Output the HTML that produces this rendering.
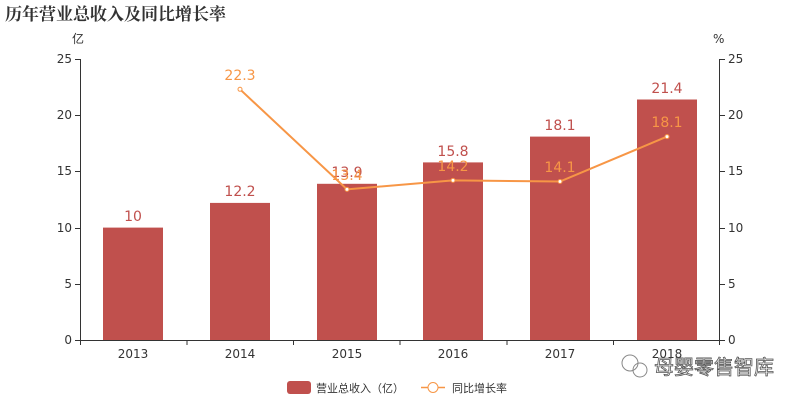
<!DOCTYPE html><html><head><meta charset="utf-8"><style>body{margin:0;background:#fff}</style></head><body>
<svg width="800" height="400" xmlns="http://www.w3.org/2000/svg" font-family="DejaVu Sans, Noto Sans CJK SC, sans-serif">
<text x="5" y="20" font-size="17" font-weight="bold" fill="#333" font-family="Noto Serif CJK SC, serif">历年营业总收入及同比增长率</text>
<text x="72" y="43" font-size="12" fill="#333">亿</text>
<text x="713" y="43" font-size="12" fill="#333">%</text>
<g stroke="#333" stroke-width="1">
<line x1="80.5" y1="59" x2="80.5" y2="340"/><line x1="719.5" y1="59" x2="719.5" y2="340"/>
<line x1="80" y1="340.5" x2="720" y2="340.5"/>
</g>
<g stroke="#333">
<line x1="75" x2="80" y1="340.5" y2="340.5"/><line x1="75" x2="80" y1="284.5" y2="284.5"/><line x1="75" x2="80" y1="228.5" y2="228.5"/><line x1="75" x2="80" y1="171.5" y2="171.5"/><line x1="75" x2="80" y1="115.5" y2="115.5"/><line x1="75" x2="80" y1="59.5" y2="59.5"/>
<line x1="720" x2="725" y1="340.5" y2="340.5"/><line x1="720" x2="725" y1="284.5" y2="284.5"/><line x1="720" x2="725" y1="228.5" y2="228.5"/><line x1="720" x2="725" y1="171.5" y2="171.5"/><line x1="720" x2="725" y1="115.5" y2="115.5"/><line x1="720" x2="725" y1="59.5" y2="59.5"/>
<line x1="80.5" x2="80.5" y1="340" y2="345"/><line x1="187" x2="187" y1="340" y2="345"/><line x1="293.5" x2="293.5" y1="340" y2="345"/><line x1="400" x2="400" y1="340" y2="345"/><line x1="507" x2="507" y1="340" y2="345"/><line x1="613.5" x2="613.5" y1="340" y2="345"/><line x1="719.5" x2="719.5" y1="340" y2="345"/>
</g>
<g font-size="12" fill="#333" text-anchor="end">
<text x="72" y="344">0</text><text x="72" y="288">5</text><text x="72" y="232">10</text><text x="72" y="175">15</text><text x="72" y="119">20</text><text x="72" y="63">25</text>
</g>
<g font-size="12" fill="#333">
<text x="728" y="344">0</text><text x="728" y="288">5</text><text x="728" y="232">10</text><text x="728" y="175">15</text><text x="728" y="119">20</text><text x="728" y="63">25</text>
</g>
<g font-size="12" fill="#333" text-anchor="middle">
<text x="133" y="358">2013</text><text x="240" y="358">2014</text><text x="347" y="358">2015</text><text x="453" y="358">2016</text><text x="560" y="358">2017</text><text x="667" y="358">2018</text>
</g>
<g fill="#c0504d">
<rect x="103" y="227.6" width="60" height="112.4"/><rect x="210" y="202.9" width="60" height="137.1"/><rect x="317" y="183.8" width="60" height="156.2"/><rect x="423" y="162.4" width="60" height="177.6"/><rect x="530" y="136.6" width="60" height="203.4"/><rect x="637" y="99.5" width="60" height="240.5"/>
</g>
<g font-size="14" fill="#c0504d" text-anchor="middle">
<text x="133" y="221">10</text><text x="240" y="196">12.2</text><text x="347" y="177">13.9</text><text x="453" y="156">15.8</text><text x="560" y="130">18.1</text><text x="667" y="93">21.4</text>
</g>
<polyline points="240,89.3 347,189.4 453,180.4 560,181.5 667,136.6" fill="none" stroke="#f79646" stroke-width="2"/>
<g fill="#fff" stroke="#f79646" stroke-width="1"><circle cx="240" cy="89.3" r="2"/><circle cx="347" cy="189.4" r="2"/><circle cx="453" cy="180.4" r="2"/><circle cx="560" cy="181.5" r="2"/><circle cx="667" cy="136.6" r="2"/></g>
<g font-size="14" fill="#f79646" text-anchor="middle">
<text x="240" y="80">22.3</text><text x="347" y="180">13.4</text><text x="453" y="171">14.2</text><text x="560" y="172">14.1</text><text x="667" y="127">18.1</text>
</g>
<rect x="287" y="381" width="24" height="13" rx="3" fill="#c0504d"/>
<text x="316" y="392" font-size="11" fill="#333">营业总收入（亿）</text>
<line x1="421" x2="445" y1="387.5" y2="387.5" stroke="#f79646" stroke-width="1.5"/>
<circle cx="433" cy="387.5" r="5" fill="#fff" stroke="#f79646"/>
<text x="452" y="392" font-size="11" fill="#333">同比增长率</text>
<text x="654" y="374" font-size="20" fill="#fff" stroke="#555" stroke-width="0.8">母婴零售智库</text>
<circle cx="630" cy="363" r="8" fill="none" stroke="#888"/>
<circle cx="640" cy="370" r="7" fill="none" stroke="#888"/>
</svg>
</body></html>
